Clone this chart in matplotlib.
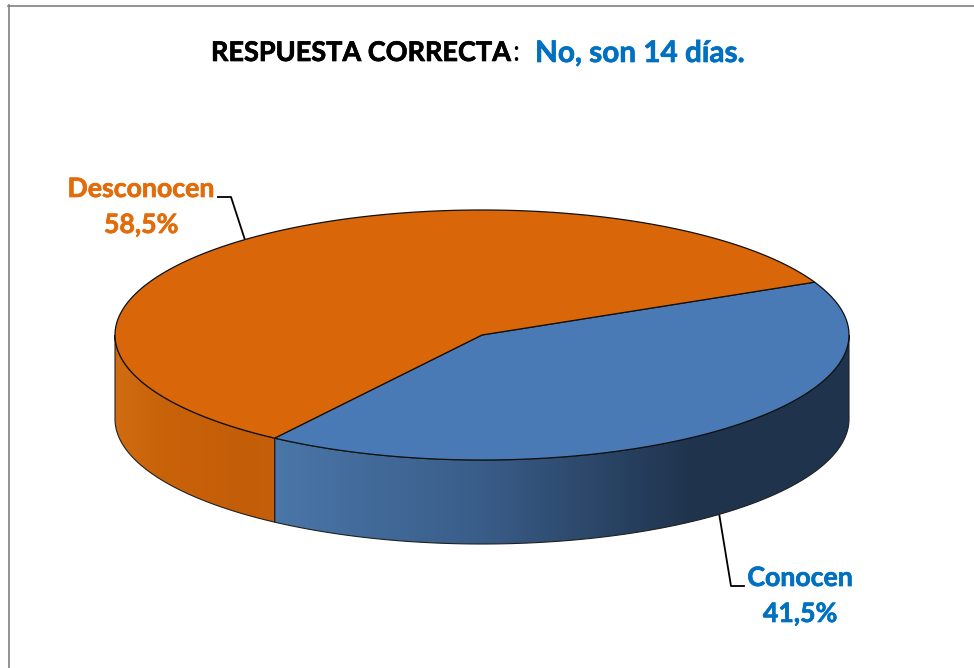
import numpy as np
import matplotlib.pyplot as plt
import matplotlib.patheffects as pe
from matplotlib.colors import LinearSegmentedColormap
from matplotlib.patches import Polygon

labels = ['Conocen', 'Desconocen']
values = [41.5, 58.5]
value_text = ['41,5%', '58,5%']
top_colors = ['#4A7AB5', '#D96608']
text_colors = ['#0070C0', '#E36C0A']

plt.rcParams['font.family'] = ['Lato', 'DejaVu Sans']

# canvas in pixels, y going down like the picture
fig = plt.figure(figsize=[9.74, 6.68], dpi=100)
ax = fig.add_axes([0, 0, 1, 1])

# pie shape
cx, cy = 482, 335
rx, ry = 367, 125
depth = 84
start = 25


def rim(a0, a1):
    t = np.radians(np.linspace(a0, a1, 300))
    return cx + rx * np.cos(t), cy - ry * np.sin(t)


def bold(x, y, s, color, size, ha='center'):
    # Lato bold is a bit thin next to the original, thicken with a small stroke
    ax.text(x, y, s, color=color, fontsize=size, fontweight='bold', ha=ha, va='center',
            path_effects=[pe.withStroke(linewidth=0.5, foreground=color)])


# slice angles from the values, going clockwise
sweep = np.array(values) / sum(values) * 360
ends = start - np.cumsum(sweep)
starts = ends + sweep

# side wall, gradient images clipped to the wall shape
side_cmaps = [
    LinearSegmentedColormap.from_list('b', [(0, '#4A76A8'), (0.35, '#3A5E8A'), (0.72, '#20344E'), (1, '#1F334C')]),
    LinearSegmentedColormap.from_list('o', [(0, '#D06C12'), (0.3, '#C9630A'), (0.8, '#C45D08'), (1, '#C65F08')]),
]
side_ranges = [(274, 850), (114, 274)]
for i in range(2):
    if i == 0:
        xs, ys = rim(ends[0], 0)
    else:
        xs, ys = rim(180, 360 + ends[0])
    wall = np.column_stack([np.r_[xs, xs[::-1]], np.r_[ys, ys[::-1] + depth]])
    poly = Polygon(wall, closed=True, facecolor='none', edgecolor='#202020', lw=0.8, zorder=3)
    ax.add_patch(poly)
    x0, x1 = side_ranges[i]
    img = ax.imshow(np.linspace(0, 1, 256).reshape(1, -1), cmap=side_cmaps[i], aspect='auto',
                    extent=[x0, x1, 560, 320], zorder=2)
    img.set_clip_path(poly)

# top face
for i in range(2):
    xs, ys = rim(ends[i], starts[i])
    top = np.column_stack([np.r_[cx, xs], np.r_[cy, ys]])
    ax.add_patch(Polygon(top, closed=True, facecolor=top_colors[i], edgecolor='#101010', lw=0.9,
                         joinstyle='round', zorder=4))

# leader lines
ax.plot([719, 731, 744], [513, 586, 586], color='black', lw=1.3, zorder=1)
ax.plot([218, 231, 245], [197, 197, 240], color='black', lw=1.3, zorder=1)

# labels
bold(800, 578, labels[0], text_colors[0], 19.2)
bold(800, 614, value_text[0], text_colors[0], 19.2)
bold(141, 189, labels[1], text_colors[1], 19.2)
bold(141, 225, value_text[1], text_colors[1], 19.2)

# title, three pieces
bold(211, 53, 'RESPUESTA CORRECTA', 'black', 19.5, ha='left')
ax.text(512, 53, ':', color='black', fontsize=20, ha='left', va='center')
bold(535, 53, 'No, son 14 días.', '#0070C0', 21.4, ha='left')

# only the top and left edges of the frame show in the picture
ax.plot([8, 974], [5.5, 5.5], color='#808080', lw=1.2, zorder=0)
ax.plot([8.5, 8.5], [5, 668], color='#808080', lw=1.2, zorder=0)

ax.set_xlim(0, 974)
ax.set_ylim(668, 0)
ax.axis('off')
fig.savefig('out.png', dpi=100, facecolor='white')
